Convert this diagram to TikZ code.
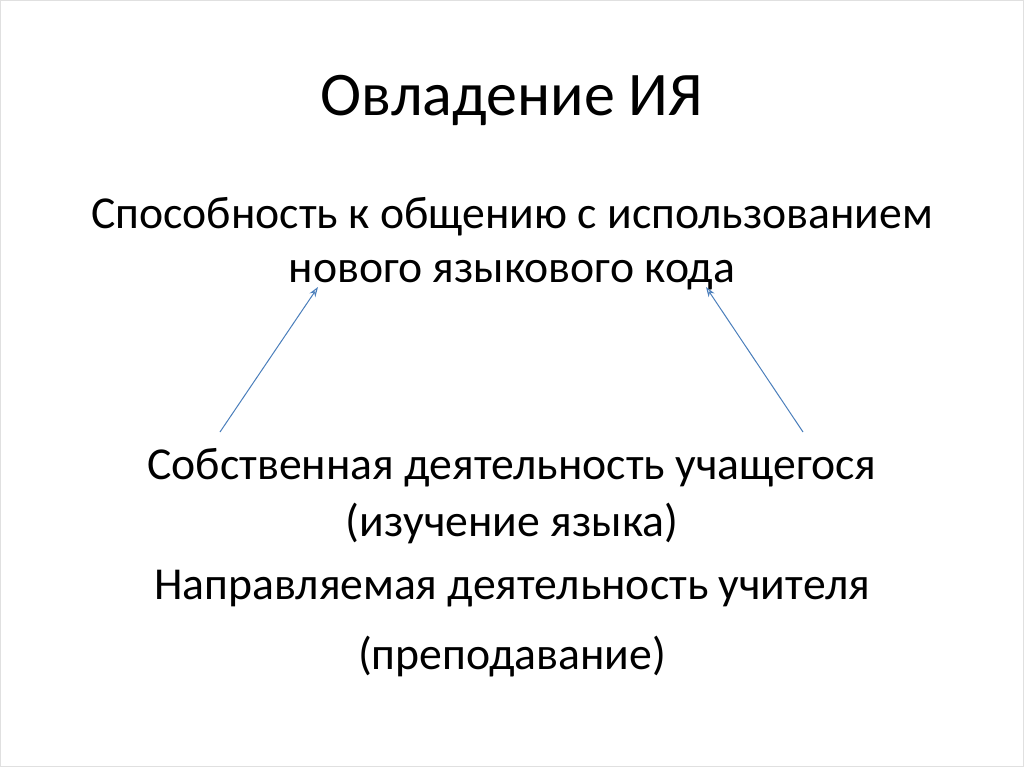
\documentclass[tikz,border=0pt]{standalone}
\usepackage{fontspec}
\setmainfont{Carlito}
\usetikzlibrary{arrows.meta}
\definecolor{arr}{RGB}{74,126,187}
\begin{document}
\begin{tikzpicture}[x=1pt,y=-1pt,
 body/.style={font=\fontsize{45.7}{46}\selectfont,anchor=base},
 conn/.style={draw=arr,line width=1pt,-{Stealth[length=10pt,width=7pt,open]}}]
\useasboundingbox (0,0) rectangle (1024,767);
\draw[black!12,line width=1pt] (0.5,0.5) rectangle (1023.5,766.5);
\node[font=\fontsize{62}{62}\selectfont,anchor=base] (t) at (512,116) {Овладение ИЯ};
\node[body] (a1) at (512,229) {Способность к общению с использованием};
\node[body] (a2) at (512,282) {нового языкового кода};
\node[body] (b1) at (512,479) {Собственная деятельность учащегося};
\node[body] (b2) at (512,536) {(изучение языка)};
\node[body] (c1) at (512,599) {Направляемая деятельность учителя};
\node[body] (c2) at (512,669) {(преподавание)};
\coordinate (l0) at (220,432); \coordinate (l1) at (318,287);
\coordinate (r0) at (803,432); \coordinate (r1) at (706,287);
\draw[conn] (l0) -- (l1);
\draw[conn] (r0) -- (r1);
\end{tikzpicture}
\end{document}
